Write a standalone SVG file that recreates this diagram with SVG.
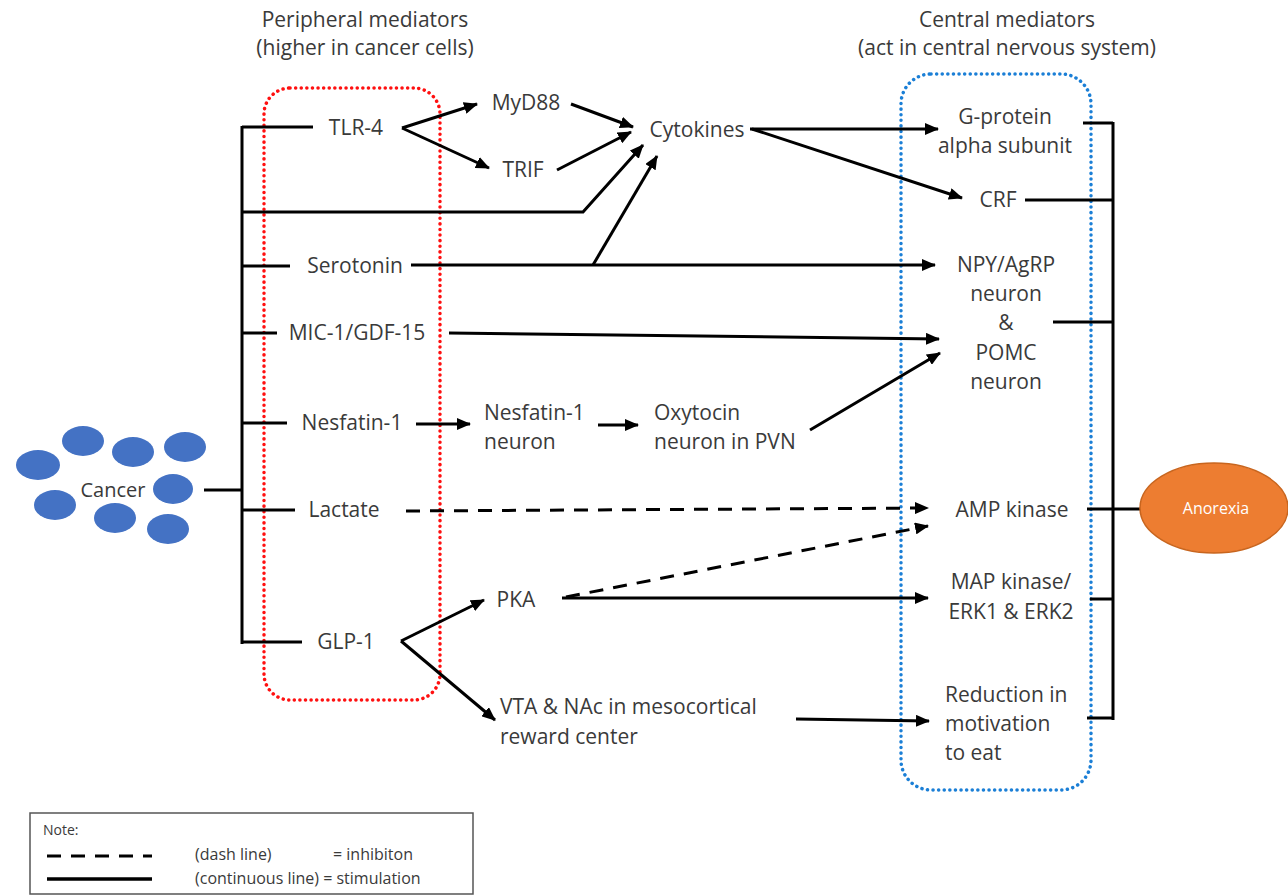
<svg xmlns="http://www.w3.org/2000/svg" width="1288" height="896" viewBox="0 0 1288 896">
<style>
  text { font-family: "Open Sans", "Liberation Sans", sans-serif; fill: #3a3a3a; }
  .lbl { font-size: 21px; }
  .c { text-anchor: middle; }
  .ln { stroke: #000; stroke-width: 3; fill: none; }
  .arr { marker-end: url(#ah); }
  .dash { stroke-dasharray: 14 10; }
  .cell { fill: #4472C4; }
  .leg { font-size: 16px; }
</style>
<defs>
  <marker id="ah" markerUnits="userSpaceOnUse" markerWidth="14" markerHeight="12" refX="13" refY="6" orient="auto">
    <path d="M0,0 L14,6 L0,12 z" fill="#000"/>
  </marker>
</defs>
<rect width="1288" height="896" fill="#fff"/>

<g id="titles">
  <text class="lbl c" x="365" y="27">Peripheral mediators</text>
  <text class="lbl c" x="365" y="55">(higher in cancer cells)</text>
  <text class="lbl c" x="1007" y="27">Central mediators</text>
  <text class="lbl c" x="1007" y="55">(act in central nervous system)</text>
</g>

<g id="peripheral-box">
  <rect x="264" y="88" width="176" height="612" rx="26" fill="none" stroke="#FF1010" stroke-width="3.5" stroke-linecap="round" stroke-dasharray="0.1 5.5"/>
</g>
<g id="central-box">
  <rect x="901" y="74" width="190" height="716" rx="30" fill="none" stroke="#1B7FD6" stroke-width="3.5" stroke-linecap="round" stroke-dasharray="0.1 5.5"/>
</g>

<g id="connectors">
  <line class="ln" x1="204" y1="490" x2="242" y2="490"/>
  <line class="ln" x1="242" y1="126" x2="242" y2="644"/>
  <line class="ln" x1="242" y1="127" x2="313" y2="127"/>
  <line class="ln" x1="242" y1="266" x2="290" y2="266"/>
  <line class="ln" x1="242" y1="333" x2="277" y2="333"/>
  <line class="ln" x1="242" y1="423" x2="287" y2="423"/>
  <line class="ln" x1="242" y1="510" x2="295" y2="510"/>
  <line class="ln" x1="242" y1="642" x2="302" y2="642"/>
  <polyline class="ln arr" points="242,212 583,212 643,145"/>
  <polyline class="ln arr" points="402,128 477,104"/>
  <polyline class="ln arr" points="402,128 489,168"/>
  <line class="ln arr" x1="571" y1="104" x2="633" y2="127"/>
  <line class="ln arr" x1="557" y1="170" x2="631" y2="132"/>
  <line class="ln arr" x1="750" y1="129" x2="938" y2="129"/>
  <line class="ln arr" x1="752" y1="129" x2="962" y2="198"/>
  <line class="ln arr" x1="411" y1="265" x2="935" y2="265"/>
  <line class="ln arr" x1="593" y1="265" x2="657" y2="156"/>
  <line class="ln arr" x1="449" y1="333" x2="939" y2="339"/>
  <line class="ln arr" x1="416" y1="424" x2="470" y2="424"/>
  <line class="ln arr" x1="598" y1="425" x2="638" y2="425"/>
  <line class="ln arr" x1="810" y1="430" x2="940" y2="353"/>
  <line class="ln arr dash" x1="406" y1="511" x2="928" y2="508"/>
  <polyline class="ln arr" points="401,641 484,600"/>
  <polyline class="ln arr" points="401,641 495,720"/>
  <line class="ln arr" x1="562" y1="598" x2="928" y2="598"/>
  <line class="ln arr dash" x1="566" y1="597" x2="928" y2="526"/>
  <line class="ln arr" x1="796" y1="719" x2="929" y2="721"/>
  <line class="ln" x1="1113" y1="122" x2="1113" y2="720"/>
  <line class="ln" x1="1083" y1="123" x2="1113" y2="123"/>
  <line class="ln" x1="1025" y1="200" x2="1113" y2="200"/>
  <line class="ln" x1="1053" y1="322" x2="1113" y2="322"/>
  <line class="ln" x1="1087" y1="509" x2="1142" y2="509"/>
  <line class="ln" x1="1090" y1="599" x2="1113" y2="599"/>
  <line class="ln" x1="1087" y1="718" x2="1113" y2="718"/>
</g>

<g id="cancer">
  <ellipse class="cell" cx="38" cy="465" rx="22" ry="15"/>
  <ellipse class="cell" cx="83" cy="441" rx="21" ry="15"/>
  <ellipse class="cell" cx="133" cy="452" rx="21" ry="15"/>
  <ellipse class="cell" cx="185" cy="447" rx="21" ry="15"/>
  <ellipse class="cell" cx="173" cy="489" rx="20" ry="15"/>
  <ellipse class="cell" cx="55" cy="505" rx="21" ry="15"/>
  <ellipse class="cell" cx="115" cy="518" rx="21" ry="15"/>
  <ellipse class="cell" cx="168" cy="529" rx="21" ry="15"/>
  <text class="lbl c" x="113" y="497" style="font-size:20px">Cancer</text>
</g>

<g id="tlr4"><text class="lbl c" x="356" y="135">TLR-4</text></g>
<g id="myd88"><text class="lbl c" x="526" y="110">MyD88</text></g>
<g id="trif"><text class="lbl c" x="523" y="177">TRIF</text></g>
<g id="cytokines"><text class="lbl c" x="697" y="137">Cytokines</text></g>
<g id="serotonin"><text class="lbl c" x="355" y="273">Serotonin</text></g>
<g id="mic1"><text class="lbl c" x="357" y="340">MIC-1/GDF-15</text></g>
<g id="nesfatin1"><text class="lbl c" x="352" y="430">Nesfatin-1</text></g>
<g id="nesfatin-neuron">
  <text class="lbl" x="484" y="420">Nesfatin-1</text>
  <text class="lbl" x="484" y="449">neuron</text>
</g>
<g id="oxytocin">
  <text class="lbl" x="654" y="420">Oxytocin</text>
  <text class="lbl" x="654" y="449">neuron in PVN</text>
</g>
<g id="lactate"><text class="lbl c" x="344" y="517">Lactate</text></g>
<g id="glp1"><text class="lbl c" x="346" y="649">GLP-1</text></g>
<g id="pka"><text class="lbl c" x="516" y="607">PKA</text></g>
<g id="vta">
  <text class="lbl" x="500" y="714">VTA &amp; NAc in mesocortical</text>
  <text class="lbl" x="500" y="744">reward center</text>
</g>

<g id="gprotein">
  <text class="lbl c" x="1005" y="124">G-protein</text>
  <text class="lbl c" x="1005" y="153">alpha subunit</text>
</g>
<g id="crf"><text class="lbl c" x="998" y="207">CRF</text></g>
<g id="npy-pomc">
  <text class="lbl c" x="1006" y="272">NPY/AgRP</text>
  <text class="lbl c" x="1006" y="301">neuron</text>
  <text class="lbl c" x="1006" y="330">&amp;</text>
  <text class="lbl c" x="1006" y="360">POMC</text>
  <text class="lbl c" x="1006" y="389">neuron</text>
</g>
<g id="ampk"><text class="lbl c" x="1012" y="517">AMP kinase</text></g>
<g id="mapk">
  <text class="lbl c" x="1011" y="589">MAP kinase/</text>
  <text class="lbl c" x="1011" y="619">ERK1 &amp; ERK2</text>
</g>
<g id="reduction">
  <text class="lbl" x="945" y="702">Reduction in</text>
  <text class="lbl" x="945" y="731">motivation</text>
  <text class="lbl" x="945" y="760">to eat</text>
</g>

<g id="anorexia">
  <ellipse cx="1214" cy="508" rx="74" ry="45" fill="#ED7D31" stroke="#C8651E" stroke-width="1.5"/>
  <text class="c" x="1216" y="514" style="font-size:16px;fill:#fff">Anorexia</text>
</g>

<g id="legend">
  <rect x="30" y="813" width="443" height="81" fill="#fff" stroke="#555" stroke-width="1.5"/>
  <text x="43" y="835" style="font-size:14px">Note:</text>
  <line x1="47" y1="856" x2="152" y2="856" stroke="#000" stroke-width="3" stroke-dasharray="14 10"/>
  <line x1="47" y1="879" x2="152" y2="879" stroke="#000" stroke-width="3.5"/>
  <text class="leg" x="195" y="860">(dash line)</text>
  <text class="leg" x="333" y="860">= inhibiton</text>
  <text class="leg" x="195" y="884">(continuous line) = stimulation</text>
</g>
</svg>
